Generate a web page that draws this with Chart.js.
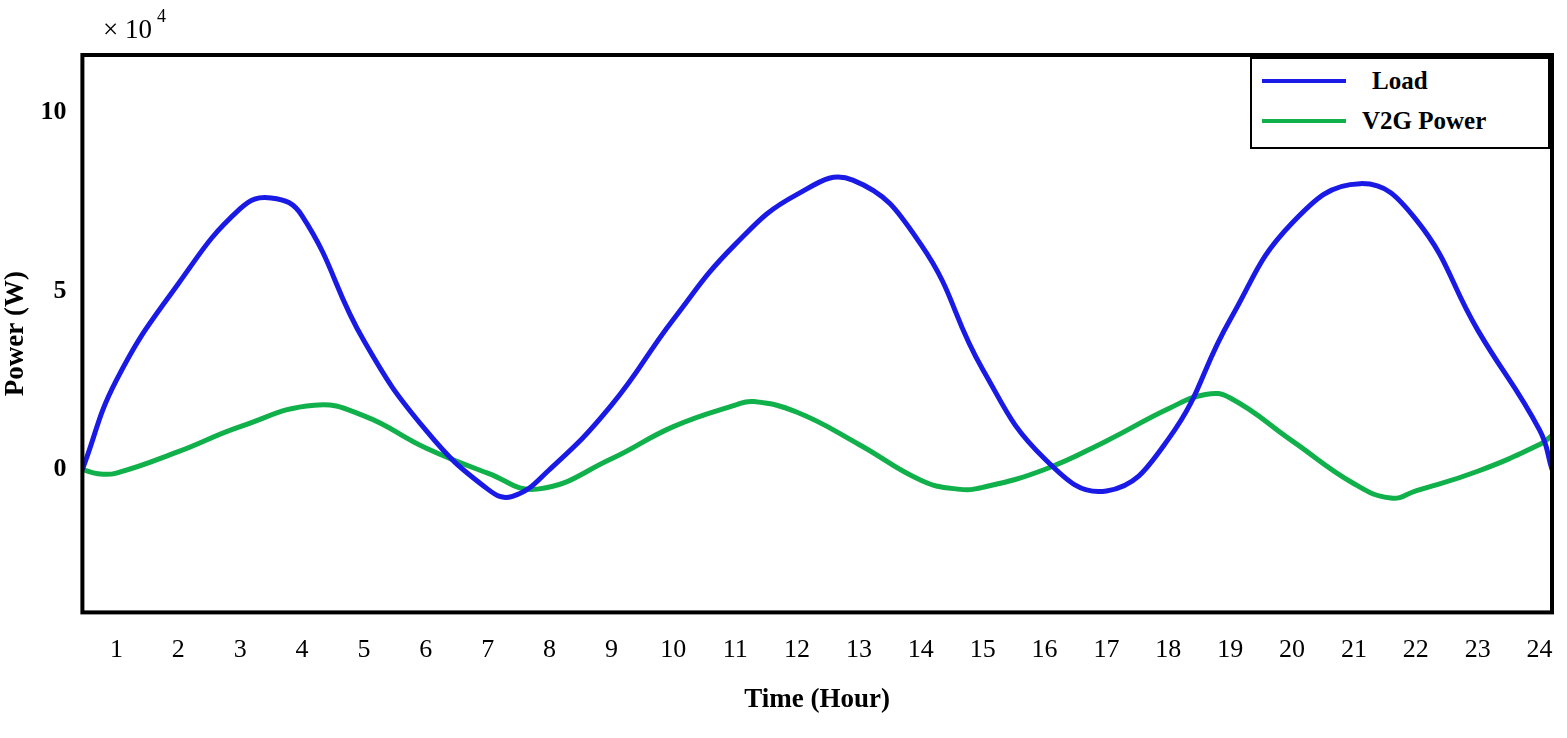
<!DOCTYPE html>
<html><head><meta charset="utf-8">
<script src="https://cdn.jsdelivr.net/npm/chart.js@4"></script>
<style>
body{margin:0;background:#fff;}
#wrap{position:relative;width:1567px;height:738px;}
#legend{position:absolute;left:1250px;top:57px;width:300px;height:92px;border:2px solid #000;background:#fff;font:bold 25px "Liberation Serif",serif;box-sizing:border-box;}
.row{position:absolute;left:10px;display:flex;align-items:center;}
.sw{width:84px;height:4px;margin-right:16px;}
</style></head><body>
<div id="wrap"><canvas id="c" width="1567" height="738"></canvas>
<div id="legend">
<div class="row" style="top:8px"><div class="sw" style="background:#1a1ae6"></div><span style="margin-left:10px">Load</span></div>
<div class="row" style="top:48px"><div class="sw" style="background:#10b04a"></div><span>V2G Power</span></div>
</div></div>
<script>
const loadX=[0.45,1,2,3,3.5,4,5,6,7,7.4,8,9,10,11,12,12.9,14,15,16,17,18,19,20,21.1,22,23,24,24.2];
const loadY=[0,2.5,5.2,7.3,7.6,7.1,3.6,1.1,-0.55,-0.75,0,1.8,4.2,6.3,7.7,8.1,6.3,2.8,0.3,-0.6,0.85,4.2,6.9,8.0,7.0,3.9,1.1,0];
const v2gX=[0.45,0.7,1,2,3,4.2,5,6,7,7.8,9,10,11,11.3,12,13,14,14.6,15,16,17,18,18.6,19,20,21,21.6,22,23,24,24.2];
const v2gY=[0,-0.12,-0.1,0.5,1.2,1.8,1.5,0.6,-0.1,-0.55,0.3,1.2,1.8,1.9,1.6,0.7,-0.3,-0.55,-0.5,0,0.8,1.7,2.1,2.0,0.8,-0.4,-0.8,-0.6,-0.05,0.7,0.95];
const xTicks=[1,2,3,4,5,6,7,8,9,10,11,12,13,14,15,16,17,18,19,20,21,22,23,24];
const yTicks=[0,5,10];
const pts=(xs,ys)=>xs.map((x,i)=>({x,y:ys[i]}));
const frame={id:'frame',afterDraw(ch){const a=ch.chartArea,c=ch.ctx;c.save();c.lineWidth=4;c.strokeStyle='#000';c.strokeRect(a.left,a.top,a.right-a.left,a.bottom-a.top);
c.fillStyle='#000';c.font='27px "Liberation Serif",serif';c.textBaseline='alphabetic';c.fillText('× 10',103,38);c.font='18px "Liberation Serif",serif';c.fillText('4',157,22);c.restore();}};
new Chart(document.getElementById('c'),{type:'scatter',
data:{datasets:[
{data:pts(loadX,loadY),showLine:true,borderColor:'#1a1ae6',borderWidth:5,pointRadius:0,tension:0.45},
{data:pts(v2gX,v2gY),showLine:true,borderColor:'#10b04a',borderWidth:5,pointRadius:0,tension:0.45}]},
options:{responsive:false,animation:false,layout:{padding:{top:55,right:15,left:0,bottom:18}},
plugins:{legend:{display:false},tooltip:{enabled:false}},
scales:{
x:{type:'linear',min:0.45,max:24.2,grid:{display:false},border:{display:false},
afterBuildTicks:s=>{s.ticks=xTicks.map(v=>({value:v}));},
ticks:{color:'#000',font:{family:'Liberation Serif',size:26},padding:14},
title:{display:true,text:'Time (Hour)',color:'#000',font:{family:'Liberation Serif',size:27,weight:'bold'},padding:{top:4}}},
y:{min:-4,max:11.6,grid:{display:false},border:{display:false},
afterBuildTicks:s=>{s.ticks=yTicks.map(v=>({value:v}));},
ticks:{color:'#000',font:{family:'Liberation Serif',size:26,weight:'bold'},padding:8},
title:{display:true,text:'Power (W)',color:'#000',font:{family:'Liberation Serif',size:27,weight:'bold'},padding:{bottom:0,top:0}}}}},
plugins:[frame]});
</script></body></html>
